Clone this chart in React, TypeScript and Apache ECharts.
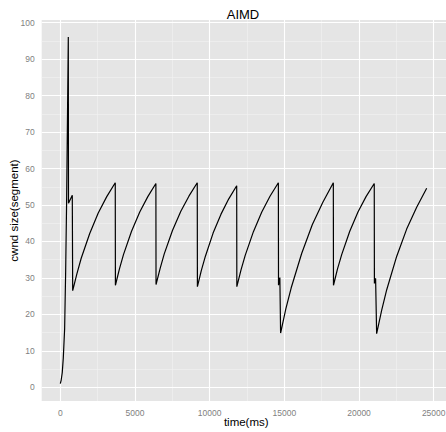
import React, { useEffect, useRef } from "react";
import * as echarts from "echarts";

// time (ms) and congestion window (segments)
const timeMs = [
  0, 60, 130, 200, 290, 360, 420, 536, 549, 803, 830,
  1115, 1400, 1970, 2540, 3110, 3680,
  3690, 3960, 4230, 4770, 5320, 5860, 6400,
  6410, 6690, 6960, 7510, 8070, 8620, 9170,
  9180, 9440, 9710, 10230, 10760, 11280, 11810,
  11820, 12100, 12380, 12930, 13490, 14040, 14600,
  14610, 14700, 14750,
  15100, 15460, 16160, 16870, 17570, 18280,
  18290, 18560, 18840, 19380, 19930, 20470, 21020,
  21030, 21110, 21180,
  21515, 21850, 22520, 23190, 23860, 24530,
];
const cwnd = [
  1, 2, 4, 8, 16, 32, 50, 96.1, 50.5, 52.7, 26.5,
  31.2, 35.4, 42.2, 47.8, 52.3, 56.1,
  28.0, 32.5, 36.4, 42.8, 48.1, 52.3, 55.9,
  28.2, 32.7, 36.6, 43.0, 48.3, 52.5, 56.1,
  27.6, 32.0, 35.9, 42.3, 47.5, 51.7, 55.3,
  27.6, 32.2, 36.2, 42.7, 48.1, 52.4, 56.1,
  28.0, 30.1, 14.9,
  21.5, 27.3, 36.7, 44.6, 50.7, 56.1,
  28.0, 32.5, 36.4, 42.8, 48.1, 52.3, 55.9,
  28.5, 29.9, 14.7,
  21.1, 26.7, 35.9, 43.4, 49.4, 54.6,
];

const xTicks = [0, 5000, 10000, 15000, 20000, 25000];
const xMinor = [2500, 7500, 12500, 17500, 22500];
const yTicks = [0, 10, 20, 30, 40, 50, 60, 70, 80, 90, 100];
const yMinor = [5, 15, 25, 35, 45, 55, 65, 75, 85, 95];

const FONT = "'Liberation Sans', Arial, Helvetica, sans-serif";

export default function App() {
  const ref = useRef<HTMLDivElement>(null);
  useEffect(() => {
    const chart = echarts.init(ref.current!, null, { renderer: "svg" });
    const data = timeMs.map((t, i) => [t, cwnd[i]]);
    const major = { color: "#FFFFFF", width: 1.1, type: "solid" };
    const minor = { color: "#F2F2F2", width: 0.6, type: "solid" };
    const gridLines = [
      ...xMinor.map((v) => ({ xAxis: v, lineStyle: minor })),
      ...yMinor.map((v) => ({ yAxis: v, lineStyle: minor })),
      ...xTicks.map((v) => ({ xAxis: v, lineStyle: major })),
      ...yTicks.map((v) => ({ yAxis: v, lineStyle: major })),
    ];
    chart.setOption({
      animation: false,
      backgroundColor: "#FFFFFF",
      textStyle: { fontFamily: FONT },
      graphic: [
        {
          type: "text",
          x: 243,
          y: 14,
          style: {
            text: "AIMD",
            align: "center",
            verticalAlign: "middle",
            fontSize: 13,
            fontFamily: FONT,
            fill: "#000000",
          },
        },
      ],
      grid: {
        left: 41.7,
        top: 20,
        right: 0.2,
        bottom: 31,
        show: true,
        backgroundColor: "#E5E5E5",
        borderWidth: 0,
        containLabel: false,
        outerBoundsMode: "none",
      },
      xAxis: {
        type: "value",
        min: -1245,
        max: 26145,
        splitNumber: 5,
        name: "time(ms)",
        nameLocation: "middle",
        nameGap: 15,
        nameMoveOverlap: false,
        nameTextStyle: { color: "#000000", fontSize: 11.5, fontFamily: FONT },
        axisLine: { show: false },
        axisTick: {
          show: true,
          length: 4,
          lineStyle: { color: "#7F7F7F", width: 1 },
          customValues: xTicks,
        },
        axisLabel: {
          color: "#7F7F7F",
          fontSize: 8.5,
          fontFamily: FONT,
          margin: 7,
          customValues: xTicks,
          formatter: (v: number) => String(v),
        },
        splitLine: { show: false },
      },
      yAxis: {
        type: "value",
        min: -3.75,
        max: 100.75,
        splitNumber: 10,
        name: "cwnd size(segment)",
        nameLocation: "middle",
        nameGap: 22,
        nameRotate: 90,
        nameMoveOverlap: false,
        nameTextStyle: { color: "#000000", fontSize: 11.5, fontFamily: FONT },
        axisLine: { show: false },
        axisTick: {
          show: true,
          length: 4,
          lineStyle: { color: "#7F7F7F", width: 1 },
          customValues: yTicks,
        },
        axisLabel: {
          color: "#7F7F7F",
          fontSize: 8.5,
          fontFamily: FONT,
          margin: 7,
          customValues: yTicks,
          formatter: (v: number) => String(v),
        },
        splitLine: { show: false },
      },
      series: [
        {
          type: "line",
          data,
          showSymbol: false,
          symbol: "none",
          z: 2,
          lineStyle: { color: "#000000", width: 1.2 },
          markLine: {
            silent: true,
            z: 1,
            symbol: ["none", "none"],
            label: { show: false },
            animation: false,
            data: gridLines,
          },
        },
      ],
    });
    return () => chart.dispose();
  }, []);
  return (
    <div
      style={{
        position: "absolute",
        left: 0,
        top: 0,
        width: 446,
        height: 432,
        overflow: "hidden",
      }}
    >
      <div ref={ref} style={{ width: 451, height: 432 }} />
    </div>
  );
}
